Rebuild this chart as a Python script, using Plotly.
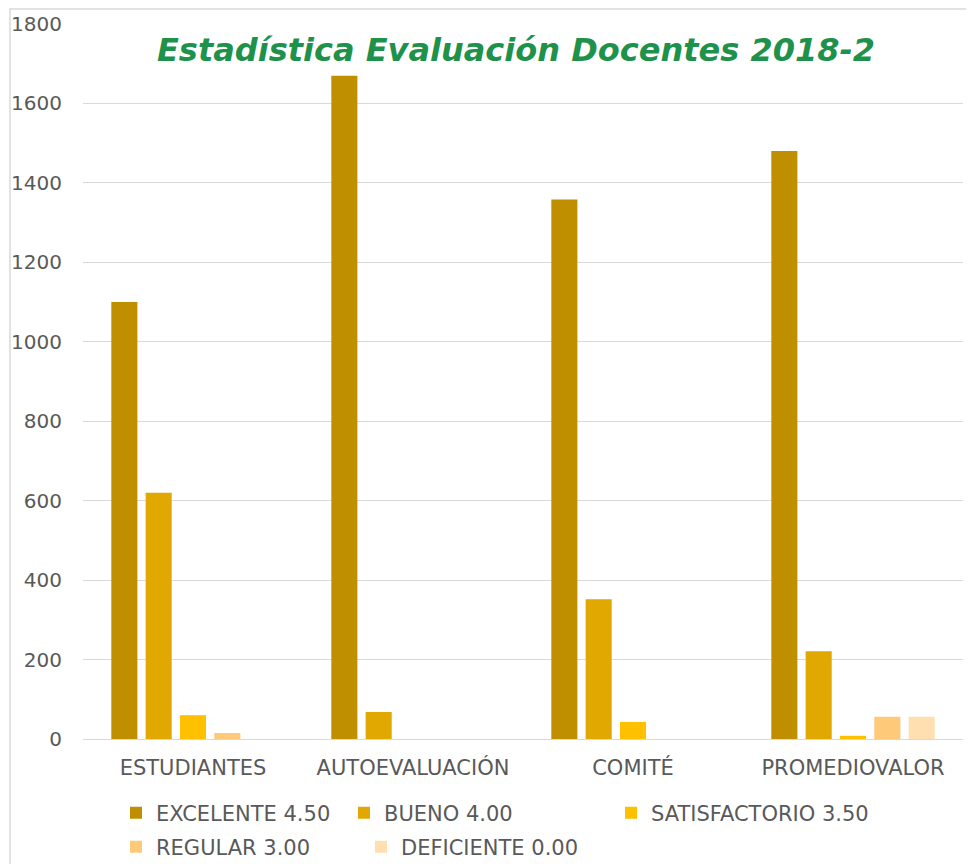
import plotly.graph_objects as go

categories = ["ESTUDIANTES", "AUTOEVALUACIÓN", "COMITÉ", "PROMEDIOVALOR"]
series_names = ["EXCELENTE 4.50", "BUENO 4.00", "SATISFACTORIO 3.50", "REGULAR 3.00", "DEFICIENTE 0.00"]
excelente = [1100, 1670, 1358, 1480]
bueno = [620, 68, 352, 221]
satisfactorio = [60, 0, 43, 8]
regular = [15, 0, 0, 56]
deficiente = [0, 0, 0, 56]
colors = ["#BF8F00", "#E0A800", "#FFC000", "#FFC97A", "#FFDFB0"]
y_ticks = [0, 200, 400, 600, 800, 1000, 1200, 1400, 1600, 1800]

values = [excelente, bueno, satisfactorio, regular, deficiente]
legend_ids = ["legend", "legend2", "legend3", "legend4", "legend5"]

# page offset of the figure (default body margin)
OFF = 8
W, H = 974 - OFF, 864 - OFF
# plot area in page pixels: left 83, right 963, top 24, bottom 739
PL, PR, PT, PB = 83, 963, 24, 739
L, T = PL - OFF, PT - OFF
R = W - (PR - OFF)
B = H - (PB - OFF)
pw = PR - PL
ph = PB - PT


def px_x(px):
    return (px - PL) / pw


def px_y(py):
    return (PB - py) / ph


fig = go.Figure()
for name, vals, col, lg in zip(series_names, values, colors, legend_ids):
    fig.add_trace(go.Bar(name=name, x=categories, y=vals, marker_color=col,
                         marker_line_width=0, legend=lg, showlegend=True))

legend_pos = [(116, 813), (344, 813), (611, 813), (116, 847), (361, 847)]
leg_common = dict(orientation="h", yanchor="middle", xanchor="left",
                  font=dict(family="DejaVu Sans", size=21, color="#595959"),
                  bgcolor="rgba(0,0,0,0)", itemwidth=30)
legends = {}
for lg, (lx, ly) in zip(legend_ids, legend_pos):
    legends[lg] = dict(x=px_x(lx), y=px_y(ly), **leg_common)

fig.update_layout(
    width=W, height=H,
    margin=dict(l=L, r=R, t=T, b=B, autoexpand=False),
    showlegend=True,
    paper_bgcolor="white", plot_bgcolor="white",
    barmode="group", bargap=0.22, bargroupgap=0.24,
    title=dict(text="Estadística Evaluación Docentes 2018-2",
               x=(516 - OFF) / W, xanchor="center", y=1 - (50 - OFF) / H, yanchor="middle",
               font=dict(family="DejaVu Sans", size=32, color="#1E914B",
                         weight="bold", style="italic")),
    xaxis=dict(showgrid=False, showline=False, ticks="", ticklabelstandoff=14,
               tickfont=dict(family="DejaVu Sans", size=21, color="#595959")),
    yaxis=dict(range=[0, 1800], tickvals=y_ticks, showgrid=True,
               gridcolor="#D9D9D9", gridwidth=1, zeroline=True,
               zerolinecolor="#D9D9D9", zerolinewidth=1, showline=False,
               ticks="", ticklabelstandoff=20,
               tickfont=dict(family="DejaVu Sans", size=20, color="#595959")),
    shapes=[dict(type="rect", xref="paper", yref="paper",
                 x0=px_x(10), x1=px_x(973), y0=px_y(900), y1=px_y(9),
                 line=dict(color="#D9D9D9", width=1.5), fillcolor="rgba(0,0,0,0)",
                 layer="below")],
    **legends,
)

fig.write_html("out.html")
